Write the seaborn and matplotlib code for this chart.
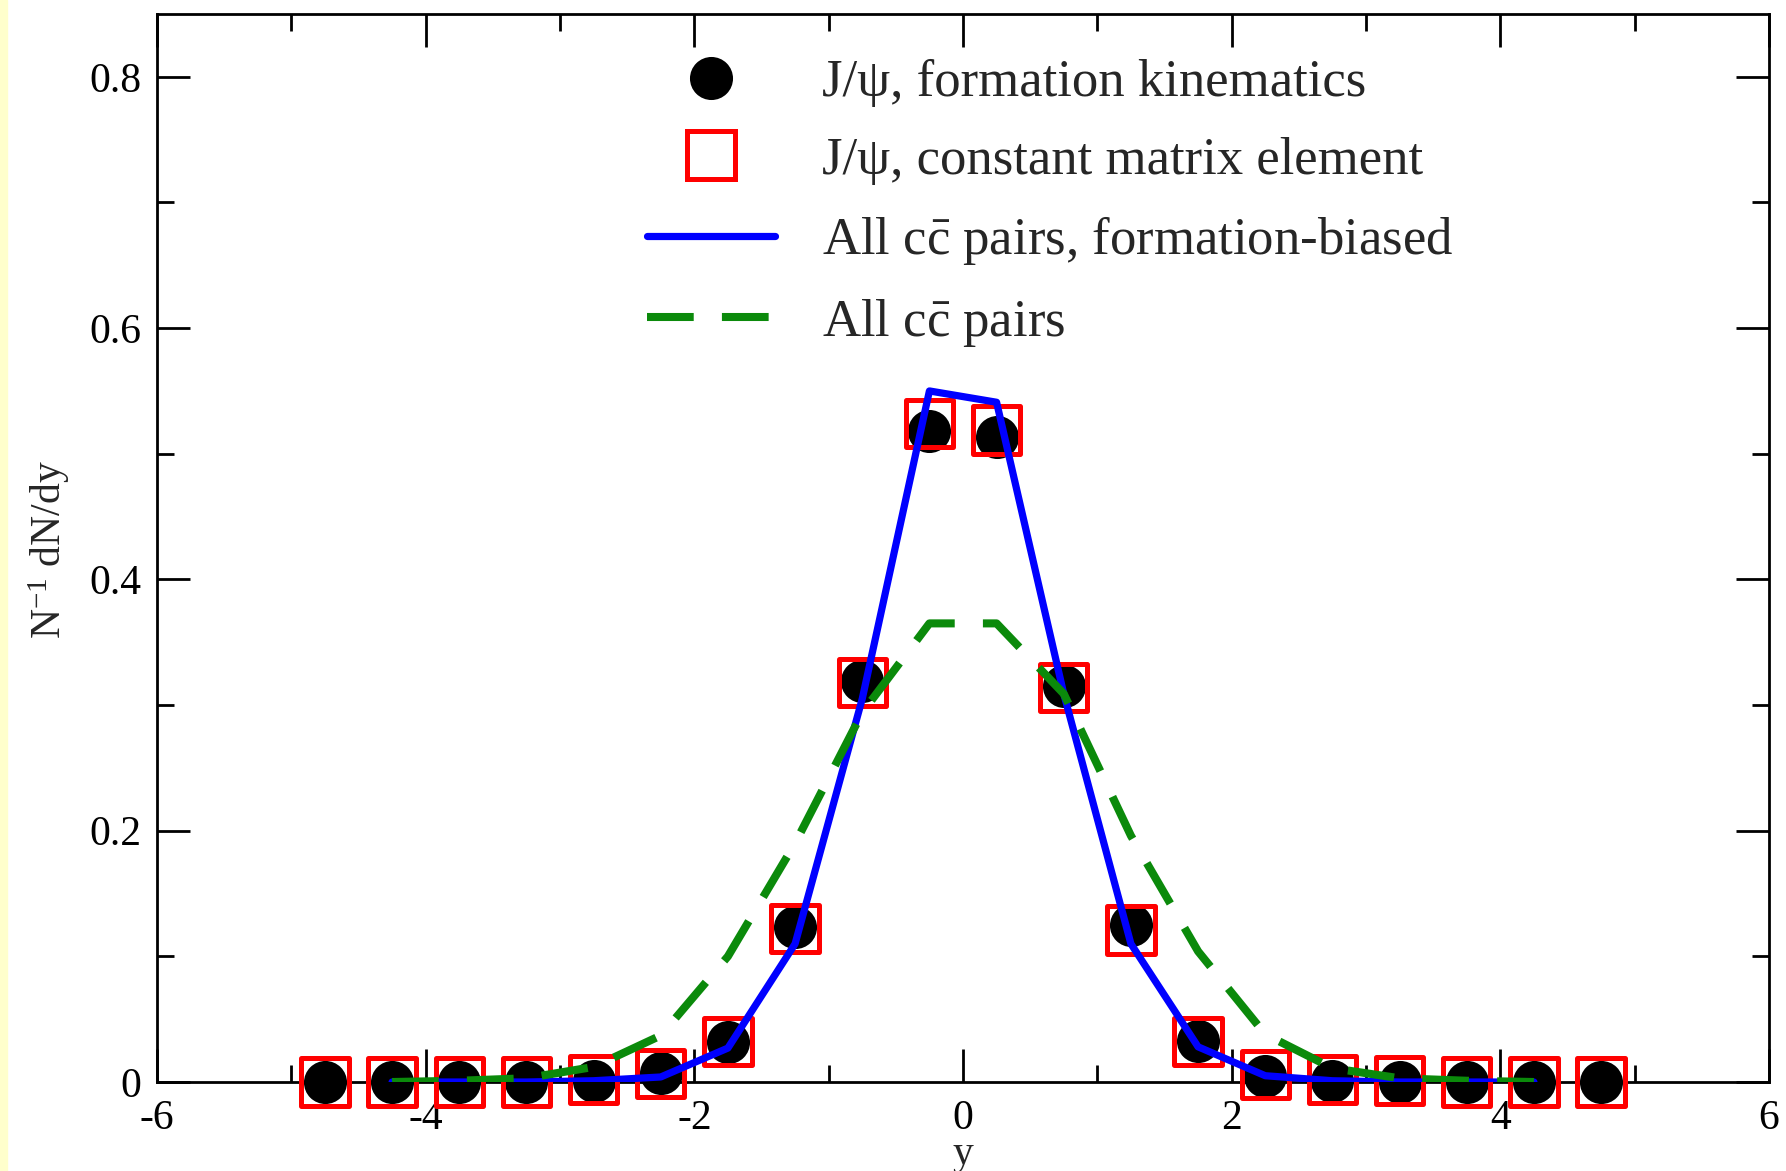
import matplotlib
matplotlib.use("Agg")
import matplotlib.pyplot as plt
from matplotlib.lines import Line2D
from matplotlib.patches import Rectangle
from matplotlib.ticker import MultipleLocator, FormatStrFormatter
import seaborn as sns

# Rapidity bins of the J/psi points
y_points = [-4.75, -4.25, -3.75, -3.25, -2.75, -2.25, -1.75, -1.25, -0.75, -0.25,
            0.25, 0.75, 1.25, 1.75, 2.25, 2.75, 3.25, 3.75, 4.25, 4.75]
jpsi_formation = [0.0, 0.0, 0.0, 0.0, 0.001, 0.007, 0.032, 0.123, 0.319, 0.518,
                  0.513, 0.315, 0.125, 0.033, 0.005, 0.001, 0.0, 0.0, 0.0, 0.0]
jpsi_constant = [0.0, 0.0, 0.0, 0.0, 0.002, 0.007, 0.032, 0.122, 0.318, 0.524,
                 0.519, 0.314, 0.121, 0.032, 0.006, 0.002, 0.001, 0.0, 0.0, 0.0]

# Rapidity grid of the c-cbar pair curves
y_curve = [-4.25, -3.75, -3.25, -2.75, -2.25, -1.75, -1.25, -0.75, -0.25,
           0.25, 0.75, 1.25, 1.75, 2.25, 2.75, 3.25, 3.75, 4.25]
ccbar_biased = [0.0, 0.0, 0.0, 0.001, 0.004, 0.027, 0.110, 0.305, 0.550,
                0.541, 0.309, 0.110, 0.028, 0.005, 0.001, 0.0, 0.0, 0.0]
ccbar_all = [0.0, 0.001, 0.003, 0.012, 0.037, 0.100, 0.190, 0.294, 0.365,
             0.365, 0.309, 0.196, 0.104, 0.038, 0.011, 0.003, 0.001, 0.0]

labels = [r"J/ψ, formation kinematics",
          r"J/ψ, constant matrix element",
          r"All c$\bar{\mathrm{c}}$ pairs, formation-biased",
          r"All c$\bar{\mathrm{c}}$ pairs"]

sns.set_style("ticks")
plt.rcParams["font.family"] = ["Liberation Serif", "DejaVu Serif"]
plt.rcParams["mathtext.fontset"] = "custom"
plt.rcParams["mathtext.rm"] = "Liberation Serif"
plt.rcParams["mathtext.it"] = "Liberation Serif:italic"
plt.rcParams["axes.unicode_minus"] = False

W, H = 1786, 1171
fig = plt.figure(figsize=(W / 100, H / 100), dpi=100)
fig.patch.set_facecolor("white")
fig.patches.append(Rectangle((0, 0), 7 / W, 1, transform=fig.transFigure,
                             color="#FFFFCC", zorder=0))

ax = fig.add_axes([157 / W, 1 - 1082 / H, (1769 - 157) / W, (1082 - 14) / H])

RED = "#FF0000"
BLUE = "#0000FF"
GREEN = "#0B8A0B"

# J/psi points
sns.scatterplot(x=y_points, y=jpsi_formation, marker="o", s=31 ** 2,
                color="black", linewidth=0, ax=ax, zorder=3, clip_on=False)
sns.scatterplot(x=y_points, y=jpsi_constant, marker="s", s=34 ** 2,
                color=RED, ax=ax, zorder=4, clip_on=False)
sq = ax.collections[-1]
sq.set_facecolor("none")
sq.set_edgecolor(RED)
sq.set_linewidth(3.6)

# c-cbar pair curves
sns.lineplot(x=y_curve, y=ccbar_biased, color=BLUE, lw=5.2, ax=ax, zorder=5)
sns.lineplot(x=y_curve, y=ccbar_all, color=GREEN, lw=5.8, ax=ax, zorder=6,
             linestyle=(0, (5.8, 3.5)), dash_capstyle="butt")

ax.set_xlim(-6, 6)
ax.set_ylim(0, 0.85)
ax.xaxis.set_major_locator(MultipleLocator(2))
ax.xaxis.set_minor_locator(MultipleLocator(1))
ax.yaxis.set_major_locator(MultipleLocator(0.2))
ax.yaxis.set_minor_locator(MultipleLocator(0.1))
ax.yaxis.set_major_formatter(FormatStrFormatter("%g"))
ax.xaxis.set_major_formatter(FormatStrFormatter("%g"))

ax.tick_params(which="both", direction="in", top=True, right=True,
               width=2.0, colors="black", labelsize=30)
ax.tick_params(which="major", length=24)
ax.tick_params(which="minor", length=12)
ax.tick_params(axis="y", which="major", pad=11)
ax.tick_params(axis="x", which="major", pad=12.5)
for sp in ax.spines.values():
    sp.set_linewidth(2.0)
    sp.set_color("black")
    sp.set_visible(True)

ax.set_xlabel("y", fontsize=30)
ax.set_ylabel(r"N$^{\mathrm{-1}}$ dN/dy", fontsize=30)
ax.xaxis.set_label_coords(0.5, -0.049)
ax.yaxis.set_label_coords(-0.053, 0.498)

handles = [
    Line2D([], [], ls="none", marker="o", markersize=31, color="black",
           markeredgewidth=0),
    Line2D([], [], ls="none", marker="s", markersize=34, markerfacecolor="none",
           markeredgecolor=RED, markeredgewidth=3.6),
    Line2D([], [], color=BLUE, lw=5.2),
    Line2D([], [], color=GREEN, lw=5.8, ls=(0, (5.8, 3.5)), dash_capstyle="butt"),
]
leg = ax.legend(handles, labels, loc="upper left",
                bbox_to_anchor=((647 - 157) / 1612, (1082 - 59) / 1068),
                frameon=False, fontsize=38, handlelength=2.42,
                handletextpad=0.89, labelspacing=0.56, borderpad=0,
                borderaxespad=0)

fig.savefig("out.png", dpi=100)
